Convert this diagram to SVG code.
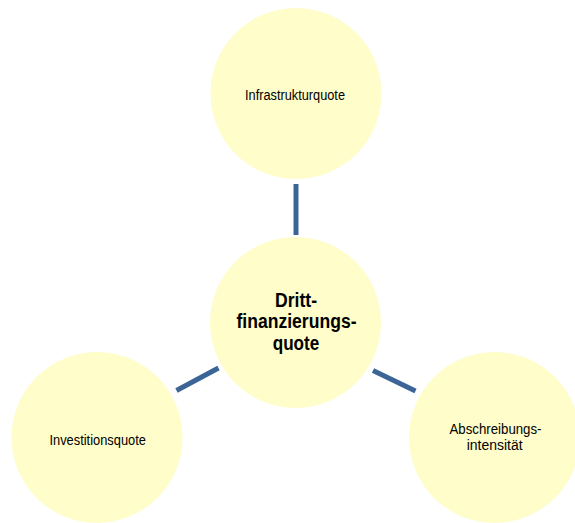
<svg xmlns="http://www.w3.org/2000/svg" width="575" height="523" viewBox="0 0 575 523">
<style>
.node{fill:#FFFDC9;stroke:none}
.conn{stroke:#3B6596;stroke-width:5;stroke-linecap:butt;fill:none}
.lbl{font-family:"Liberation Sans",Arial,sans-serif;font-size:14px;fill:#000;text-anchor:middle}
.main{font-family:"Liberation Sans",Arial,sans-serif;font-size:19.5px;font-weight:bold;fill:#000;text-anchor:middle}
</style>
<rect width="575" height="523" fill="#fff"/>
<g id="connectors">
<line class="conn" x1="296" y1="184" x2="296" y2="235"/>
<line class="conn" x1="218.5" y1="368" x2="176.5" y2="390.5"/>
<line class="conn" x1="373" y1="370.5" x2="415.5" y2="391"/>
</g>
<g id="node-infrastruktur">
<circle class="node" cx="296" cy="93.5" r="85.5"/>
<text class="lbl" x="295" y="100" textLength="100" lengthAdjust="spacingAndGlyphs">Infrastrukturquote</text>
</g>
<g id="node-drittfinanzierung">
<circle class="node" cx="295.5" cy="322.5" r="85.5"/>
<text class="main" x="296" y="306.5" textLength="42" lengthAdjust="spacingAndGlyphs">Dritt-</text>
<text class="main" x="296.5" y="327.5" textLength="120" lengthAdjust="spacingAndGlyphs">finanzierungs-</text>
<text class="main" x="296" y="350" textLength="46.5" lengthAdjust="spacingAndGlyphs">quote</text>
</g>
<g id="node-investition">
<circle class="node" cx="97" cy="437.5" r="85.5"/>
<text class="lbl" x="97.7" y="445" textLength="96.5" lengthAdjust="spacingAndGlyphs">Investitionsquote</text>
</g>
<g id="node-abschreibung">
<circle class="node" cx="494.5" cy="437.5" r="85.5"/>
<text class="lbl" x="495.5" y="434" textLength="92" lengthAdjust="spacingAndGlyphs">Abschreibungs-</text>
<text class="lbl" x="494.7" y="450" textLength="56" lengthAdjust="spacingAndGlyphs">intensität</text>
</g>
</svg>
